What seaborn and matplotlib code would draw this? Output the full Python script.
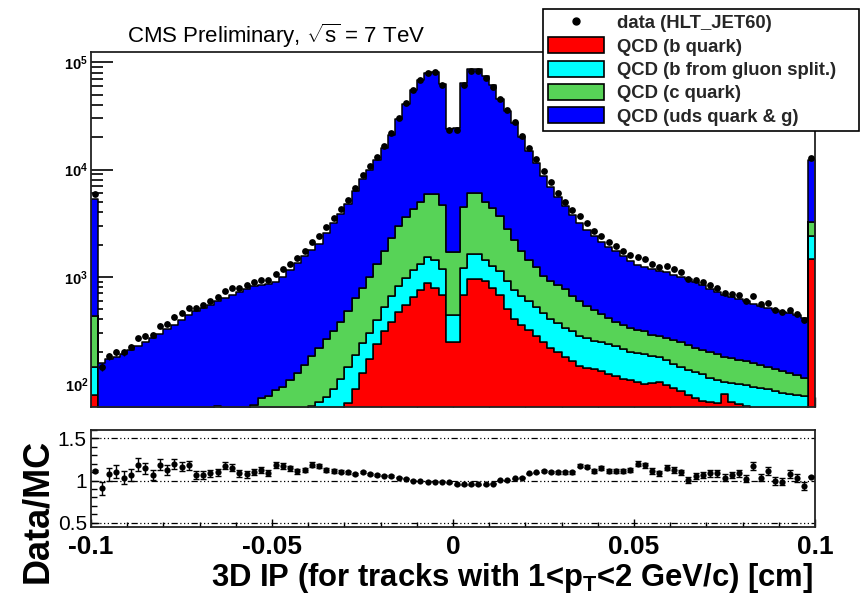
import numpy as np
import pandas as pd
import matplotlib
matplotlib.use("Agg")
import matplotlib.pyplot as plt
import seaborn as sns
from matplotlib.patches import Patch
from matplotlib.lines import Line2D
from matplotlib.ticker import MultipleLocator, LogLocator, NullFormatter, FixedLocator, FixedFormatter

sns.set_theme(style="white")
plt.rcParams['font.family'] = ['Liberation Sans', 'DejaVu Sans']
plt.rcParams['mathtext.fontset'] = 'custom'
plt.rcParams['mathtext.rm'] = 'Liberation Sans'
plt.rcParams['mathtext.bf'] = 'Liberation Sans:bold'
plt.rcParams['mathtext.it'] = 'Liberation Sans:italic'

# ---------------- data ----------------
# 100 bins from -0.1 to 0.1 cm; values are log10 of the stacked heights
log_total = [3.73,
             2.20, 2.23, 2.25, 2.28, 2.32, 2.35, 2.39, 2.43, 2.47, 2.51,
             2.55, 2.60, 2.64, 2.68, 2.71, 2.74, 2.77, 2.80, 2.83, 2.86,
             2.89, 2.91, 2.92, 2.935, 2.95, 3.00, 3.06, 3.13, 3.19, 3.25,
             3.31, 3.41, 3.50, 3.59, 3.68, 3.80, 3.91, 4.00, 4.09, 4.20,
             4.32, 4.47, 4.61, 4.74, 4.84, 4.905, 4.915, 4.795, 4.375, 4.39,
             4.81, 4.935, 4.94, 4.87, 4.785, 4.66, 4.55, 4.43, 4.30, 4.17,
             4.06, 3.94, 3.84, 3.74, 3.66, 3.58, 3.50, 3.44, 3.38, 3.32,
             3.28, 3.24, 3.19, 3.15, 3.11, 3.09, 3.07, 3.055, 3.04, 3.02,
             3.00, 2.98, 2.95, 2.92, 2.89, 2.86, 2.83, 2.81, 2.79, 2.77,
             2.75, 2.73, 2.71, 2.69, 2.675, 2.66, 2.64, 2.62, 4.09]

log_c_top = [2.636,
             1.45, 1.45, 1.47, 1.48, 1.50, 1.50, 1.52, 1.53, 1.55, 1.56,
             1.58, 1.60, 1.62, 1.63, 1.65, 1.70, 1.79, 1.72, 1.74, 1.75,
             1.76, 1.80, 1.87, 1.89, 1.94, 1.97, 2.04, 2.10, 2.18, 2.26,
             2.34, 2.42, 2.49, 2.58, 2.68, 2.80, 2.90, 3.00, 3.12, 3.24,
             3.36, 3.47, 3.56, 3.63, 3.70, 3.77, 3.77, 3.67, 3.23, 3.23,
             3.65, 3.78, 3.78, 3.70, 3.64, 3.57, 3.45, 3.34, 3.24, 3.16,
             3.09, 3.01, 2.96, 2.92, 2.89, 2.82, 2.77, 2.73, 2.69, 2.65,
             2.62, 2.58, 2.55, 2.52, 2.50, 2.49, 2.46, 2.45, 2.43, 2.41,
             2.39, 2.36, 2.34, 2.32, 2.30, 2.28, 2.25, 2.24, 2.22, 2.21,
             2.20, 2.18, 2.16, 2.14, 2.12, 2.10, 2.08, 2.06, 3.51]

log_gsp_top = [2.159,
               1.30, 1.30, 1.32, 1.33, 1.35, 1.35, 1.37, 1.38, 1.40, 1.40,
               1.42, 1.43, 1.45, 1.46, 1.48, 1.50, 1.52, 1.53, 1.55, 1.56,
               1.58, 1.60, 1.62, 1.64, 1.66, 1.68, 1.70, 1.72, 1.74, 1.79,
               1.83, 1.88, 1.95, 2.05, 2.16, 2.27, 2.38, 2.48, 2.60, 2.72,
               2.82, 2.91, 2.99, 3.06, 3.12, 3.18, 3.16, 3.07, 2.64, 2.64,
               3.08, 3.21, 3.21, 3.16, 3.10, 3.05, 2.96, 2.88, 2.82, 2.77,
               2.72, 2.66, 2.61, 2.57, 2.52, 2.49, 2.45, 2.43, 2.40, 2.39,
               2.37, 2.35, 2.33, 2.30, 2.29, 2.28, 2.26, 2.25, 2.22, 2.19,
               2.16, 2.13, 2.11, 2.09, 2.06, 2.04, 2.02, 2.01, 2.00, 1.99,
               1.97, 1.96, 1.95, 1.93, 1.92, 1.91, 1.90, 1.89, 3.38]

log_b_top = [1.897,
             1.00, 1.00, 1.02, 1.03, 1.05, 1.05, 1.07, 1.08, 1.10, 1.10,
             1.12, 1.14, 1.16, 1.18, 1.20, 1.22, 1.24, 1.26, 1.28, 1.30,
             1.32, 1.34, 1.36, 1.38, 1.40, 1.42, 1.44, 1.46, 1.48, 1.51,
             1.54, 1.58, 1.63, 1.70, 1.82, 1.95, 2.10, 2.23, 2.37, 2.49,
             2.58, 2.67, 2.74, 2.81, 2.88, 2.94, 2.90, 2.83, 2.39, 2.39,
             2.83, 2.98, 2.98, 2.96, 2.90, 2.83, 2.70, 2.61, 2.55, 2.50,
             2.45, 2.39, 2.34, 2.30, 2.25, 2.21, 2.17, 2.15, 2.14, 2.12,
             2.09, 2.07, 2.05, 2.04, 2.02, 2.00, 2.01, 2.02, 1.99, 1.96,
             1.93, 1.90, 1.87, 1.84, 1.83, 1.82, 1.91, 1.83, 1.81, 1.79,
             1.76, 1.75, 1.72, 1.71, 1.70, 1.69, 1.68, 1.67, 3.17]

ratio = [1.113, 0.91, 1.074, 1.106, 1.035, 1.066, 1.19, 1.145, 1.066, 1.19,
         1.125, 1.20, 1.165, 1.18, 1.066, 1.066, 1.086, 1.098, 1.176, 1.153,
         1.086, 1.074, 1.106, 1.125, 1.086, 1.18, 1.176, 1.145, 1.113, 1.125,
         1.19, 1.176, 1.125, 1.113, 1.106, 1.098, 1.074, 1.098, 1.074, 1.066,
         1.058, 1.054, 1.035, 1.02, 1.0, 0.996, 0.988, 0.988, 0.988, 0.98,
         0.956, 0.956, 0.956, 0.956, 0.956, 0.965, 1.007, 1.007, 1.027, 1.035,
         1.086, 1.098, 1.113, 1.098, 1.098, 1.098, 1.098, 1.176, 1.165, 1.113,
         1.153, 1.113, 1.113, 1.113, 1.125, 1.20, 1.18, 1.113, 1.086, 1.153,
         1.125, 1.098, 1.007, 1.058, 1.066, 1.086, 1.086, 1.035, 1.066, 1.086,
         1.02, 1.176, 1.035, 1.113, 0.996, 0.988, 1.074, 1.035, 0.94, 1.047]

labels = ["data (HLT_JET60)", "QCD (b quark)", "QCD (b from gluon split.)",
          "QCD (c quark)", "QCD (uds quark & g)"]
colors = {"QCD (b quark)": "#ff0000", "QCD (b from gluon split.)": "#00ffff",
          "QCD (c quark)": "#57d357", "QCD (uds quark & g)": "#0000ff"}
x_ticks = [-0.1, -0.05, 0, 0.05, 0.1]
x_tick_labels = ["-0.1", "-0.05", "0", "0.05", "0.1"]

# ---------------- derived quantities ----------------
edges = np.linspace(-0.1, 0.1, 101)
centers = 0.5 * (edges[:-1] + edges[1:])
tot = 10 ** np.array(log_total)
c_top = 10 ** np.array(log_c_top)
g_top = 10 ** np.array(log_gsp_top)
b_top = 10 ** np.array(log_b_top)
comp = {
    "QCD (b quark)": b_top,
    "QCD (b from gluon split.)": g_top - b_top,
    "QCD (c quark)": c_top - g_top,
    "QCD (uds quark & g)": tot - c_top,
}
df = pd.concat([pd.DataFrame({"x": centers, "w": v, "process": k}) for k, v in comp.items()],
               ignore_index=True)
ratio = np.array(ratio)
data = tot * ratio
data_err = np.sqrt(data)
ratio_err = ratio / np.sqrt(data)

# ---------------- figure ----------------
W, H = 863, 602
fig = plt.figure(figsize=(W / 100, H / 100), dpi=100)
ax1 = fig.add_axes([91 / W, 1 - 407 / H, 724 / W, 355 / H])
ax2 = fig.add_axes([91 / W, 1 - 527 / H, 724 / W, 97 / H])

hue_order = ["QCD (uds quark & g)", "QCD (c quark)", "QCD (b from gluon split.)", "QCD (b quark)"]
sns.histplot(data=df, x="x", weights="w", hue="process", hue_order=hue_order,
             palette=colors, multiple="stack", bins=[float(e) for e in edges], element="step",
             fill=True, alpha=1, edgecolor="black", linewidth=1.1, legend=False, ax=ax1)
ax1.set_yscale("log")
ax1.errorbar(centers, data, yerr=data_err, fmt="none", ecolor="black", elinewidth=1, zorder=5)
sns.scatterplot(x=centers, y=data, color="black", s=24, linewidth=0, ax=ax1, zorder=6)
ax1.set_xlim(-0.1, 0.1)
ax1.set_ylim(61, 1.25e5)
ax1.set_xlabel("")
ax1.set_ylabel("")

# ratio panel
for yv in (0.5, 1.0, 1.5):
    ax2.axhline(yv, color="black", lw=0.9, ls=(0, (5, 2, 1, 2, 1, 2, 1, 2)), zorder=1)
ax2.errorbar(centers, ratio, yerr=ratio_err, fmt="none", ecolor="black", elinewidth=1,
             capsize=2.2, capthick=1, zorder=3)
sns.scatterplot(x=centers, y=ratio, color="black", s=20, linewidth=0, ax=ax2, zorder=4)
ax2.set_xlim(-0.1, 0.1)
ax2.set_ylim(0.45, 1.6)
ax2.set_xlabel("")
ax2.set_ylabel("")

# axes styling
for ax in (ax1, ax2):
    for sp in ax.spines.values():
        sp.set_color("#222222")
        sp.set_linewidth(1.3)
        sp.set_visible(True)
    ax.grid(False)
    ax.tick_params(which="both", direction="in", bottom=True, left=True, top=False,
                   right=False, colors="black")

ax1.xaxis.set_major_locator(MultipleLocator(0.05))
ax1.xaxis.set_minor_locator(MultipleLocator(0.01))
ax1.tick_params(axis="x", which="major", length=7, width=1)
ax1.tick_params(axis="x", which="minor", length=4.3, width=1)
ax1.tick_params(labelbottom=False)
ax1.yaxis.set_major_locator(FixedLocator([1e2, 1e3, 1e4, 1e5]))
ax1.yaxis.set_major_formatter(FixedFormatter([r"$\mathbf{10^{2}}$", r"$\mathbf{10^{3}}$",
                                              r"$\mathbf{10^{4}}$", r"$\mathbf{10^{5}}$"]))
ax1.yaxis.set_minor_locator(LogLocator(base=10, subs=np.arange(2, 10)))
ax1.yaxis.set_minor_formatter(NullFormatter())
ax1.tick_params(axis="y", which="major", length=15.5, width=1.2, labelsize=10.5, pad=2)
ax1.tick_params(axis="y", which="minor", length=8.5, width=1.2)

ax2.xaxis.set_major_locator(FixedLocator(x_ticks))
ax2.xaxis.set_major_formatter(FixedFormatter(x_tick_labels))
ax2.xaxis.set_minor_locator(MultipleLocator(0.01))
ax2.tick_params(axis="x", which="major", length=5.5, width=1, labelsize=19, pad=6)
ax2.tick_params(axis="x", which="minor", length=3.5, width=1)
for t in ax2.get_xticklabels():
    t.set_fontweight("bold")
ax2.yaxis.set_major_locator(FixedLocator([0.5, 1.0, 1.5]))
ax2.yaxis.set_major_formatter(FixedFormatter(["0.5", "1", "1.5"]))
ax2.yaxis.set_minor_locator(MultipleLocator(0.1))
ax2.tick_params(axis="y", which="major", length=6, width=1, labelsize=15, pad=3)
ax2.tick_params(axis="y", which="minor", length=4, width=1)

# texts
fig.text(127 / W, 1 - 36 / H, r"CMS Preliminary, $\sqrt{\mathrm{s}}$ = 7 TeV",
         fontsize=16, ha="left", va="center", color="black")
fig.text(813 / W, 1 - 578 / H, r"3D IP (for tracks with 1<p$_{\mathbf{T}}$<2 GeV/c) [cm]",
         fontsize=22.3, fontweight="bold", ha="right", va="center", color="black")
fig.text(38 / W, 1 - 511 / H, "Data/MC", fontsize=26, fontweight="bold", rotation=90,
         ha="center", va="center", color="black")

# legend
handles = [Line2D([0], [0], marker="o", color="black", linestyle="none", markersize=5)]
for lab in labels[1:]:
    handles.append(Patch(facecolor=colors[lab], edgecolor="black", linewidth=1.2))
leg = fig.legend(handles, labels, loc="upper left",
                 bbox_to_anchor=(543 / W, 1 - 127 / H, 316 / W, 118 / H), mode="expand",
                 frameon=True, fancybox=False, edgecolor="black", framealpha=1,
                 handlelength=3.0, handleheight=0.95, labelspacing=0.27, borderpad=0.28,
                 handletextpad=0.75, borderaxespad=0,
                 prop={"family": ["Liberation Sans", "DejaVu Sans"], "weight": "bold", "size": 13.3})
leg.get_frame().set_linewidth(1.2)

fig.savefig("out.png", dpi=100)
